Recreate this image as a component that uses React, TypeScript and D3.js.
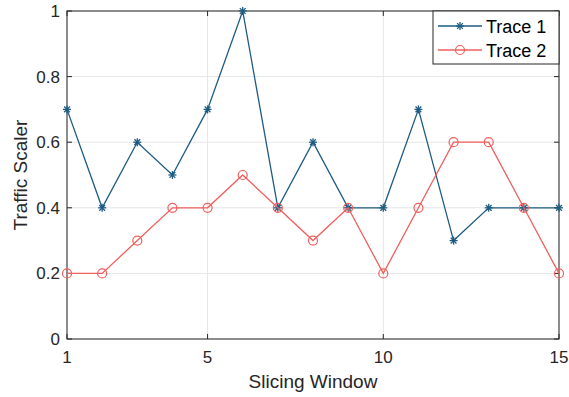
import React from 'react';
import * as d3 from 'd3';

const windows = d3.range(1, 16);
const trace1 = [0.7, 0.4, 0.6, 0.5, 0.7, 1.0, 0.4, 0.6, 0.4, 0.4, 0.7, 0.3, 0.4, 0.4, 0.4];
const trace2 = [0.2, 0.2, 0.3, 0.4, 0.4, 0.5, 0.4, 0.3, 0.4, 0.2, 0.4, 0.6, 0.6, 0.4, 0.2];
const xTicks = [1, 5, 10, 15];
const yTicks = [0, 0.2, 0.4, 0.6, 0.8, 1];
const seriesNames = ['Trace 1', 'Trace 2'];

const W = 569;
const H = 397;
const left = 67, right = 559, top = 11, bottom = 339;
const blue = '#1d5b82';
const red = '#f05f5c';
const font = 'Liberation Sans, Arial, Helvetica, sans-serif';

const Star = ({ x, y, color }: { x: number; y: number; color: string }) => {
  const r = 4;
  const d = r * 0.72;
  return (
    <g stroke={color} strokeWidth={1.3}>
      <line x1={x - r} y1={y} x2={x + r} y2={y} />
      <line x1={x} y1={y - r} x2={x} y2={y + r} />
      <line x1={x - d} y1={y - d} x2={x + d} y2={y + d} />
      <line x1={x - d} y1={y + d} x2={x + d} y2={y - d} />
    </g>
  );
};

const App = () => {
  const x = d3.scaleLinear().domain([1, 15]).range([left, right]);
  const y = d3.scaleLinear().domain([0, 1]).range([bottom, top]);
  const line = d3.line<number>().x((_, i) => x(windows[i])).y((d) => y(d));

  return (
    <svg width={W} height={H} style={{ position: 'absolute', left: 0, top: 0 }}>
      <rect width={W} height={H} fill="#fff" />
      {/* grid */}
      {xTicks.map((t) => (
        <line key={'gx' + t} x1={x(t)} x2={x(t)} y1={top} y2={bottom} stroke="#e6e6e6" strokeWidth={1} />
      ))}
      {yTicks.map((t) => (
        <line key={'gy' + t} x1={left} x2={right} y1={y(t)} y2={y(t)} stroke="#e6e6e6" strokeWidth={1} />
      ))}
      {/* axes box */}
      <rect x={left} y={top} width={right - left} height={bottom - top} fill="none" stroke="#262626" strokeWidth={1} />
      {xTicks.map((t) => (
        <g key={'tx' + t}>
          <line x1={x(t)} x2={x(t)} y1={bottom} y2={bottom - 5} stroke="#262626" />
          <line x1={x(t)} x2={x(t)} y1={top} y2={top + 5} stroke="#262626" />
          <text x={x(t)} y={bottom + 24} textAnchor="middle" fontFamily={font} fontSize={17} fill="#262626">{t}</text>
        </g>
      ))}
      {yTicks.map((t) => (
        <g key={'ty' + t}>
          <line x1={left} x2={left + 5} y1={y(t)} y2={y(t)} stroke="#262626" />
          <line x1={right} x2={right - 5} y1={y(t)} y2={y(t)} stroke="#262626" />
          <text x={left - 7} y={y(t) + 6} textAnchor="end" fontFamily={font} fontSize={17} fill="#262626">{t}</text>
        </g>
      ))}
      <text x={(left + right) / 2} y={388} textAnchor="middle" fontFamily={font} fontSize={19} fill="#262626">Slicing Window</text>
      <text transform={`translate(27,${(top + bottom) / 2}) rotate(-90)`} textAnchor="middle" fontFamily={font} fontSize={19} fill="#262626">Traffic Scaler</text>

      {/* series */}
      <path d={line(trace1) || ''} fill="none" stroke={blue} strokeWidth={1.3} />
      {trace1.map((v, i) => <Star key={'s' + i} x={x(windows[i])} y={y(v)} color={blue} />)}
      <path d={line(trace2) || ''} fill="none" stroke={red} strokeWidth={1.3} />
      {trace2.map((v, i) => (
        <circle key={'c' + i} cx={x(windows[i])} cy={y(v)} r={4.5} fill="none" stroke={red} strokeWidth={1.2} />
      ))}

      {/* legend */}
      <g>
        <rect x={433} y={11} width={126} height={53} fill="#fff" stroke="#262626" strokeWidth={1} />
        {seriesNames.map((name, i) => {
          const ly = 26 + i * 24;
          const c = i === 0 ? blue : red;
          return (
            <g key={name}>
              <line x1={438} x2={482} y1={ly} y2={ly} stroke={c} strokeWidth={1.3} />
              {i === 0 ? <Star x={460} y={ly} color={c} /> : <circle cx={460} cy={ly} r={4.5} fill="none" stroke={c} strokeWidth={1.2} />}
              <text x={486} y={ly + 6.5} fontFamily={font} fontSize={18} fill="#000">{name}</text>
            </g>
          );
        })}
      </g>
    </svg>
  );
};

export default App;
